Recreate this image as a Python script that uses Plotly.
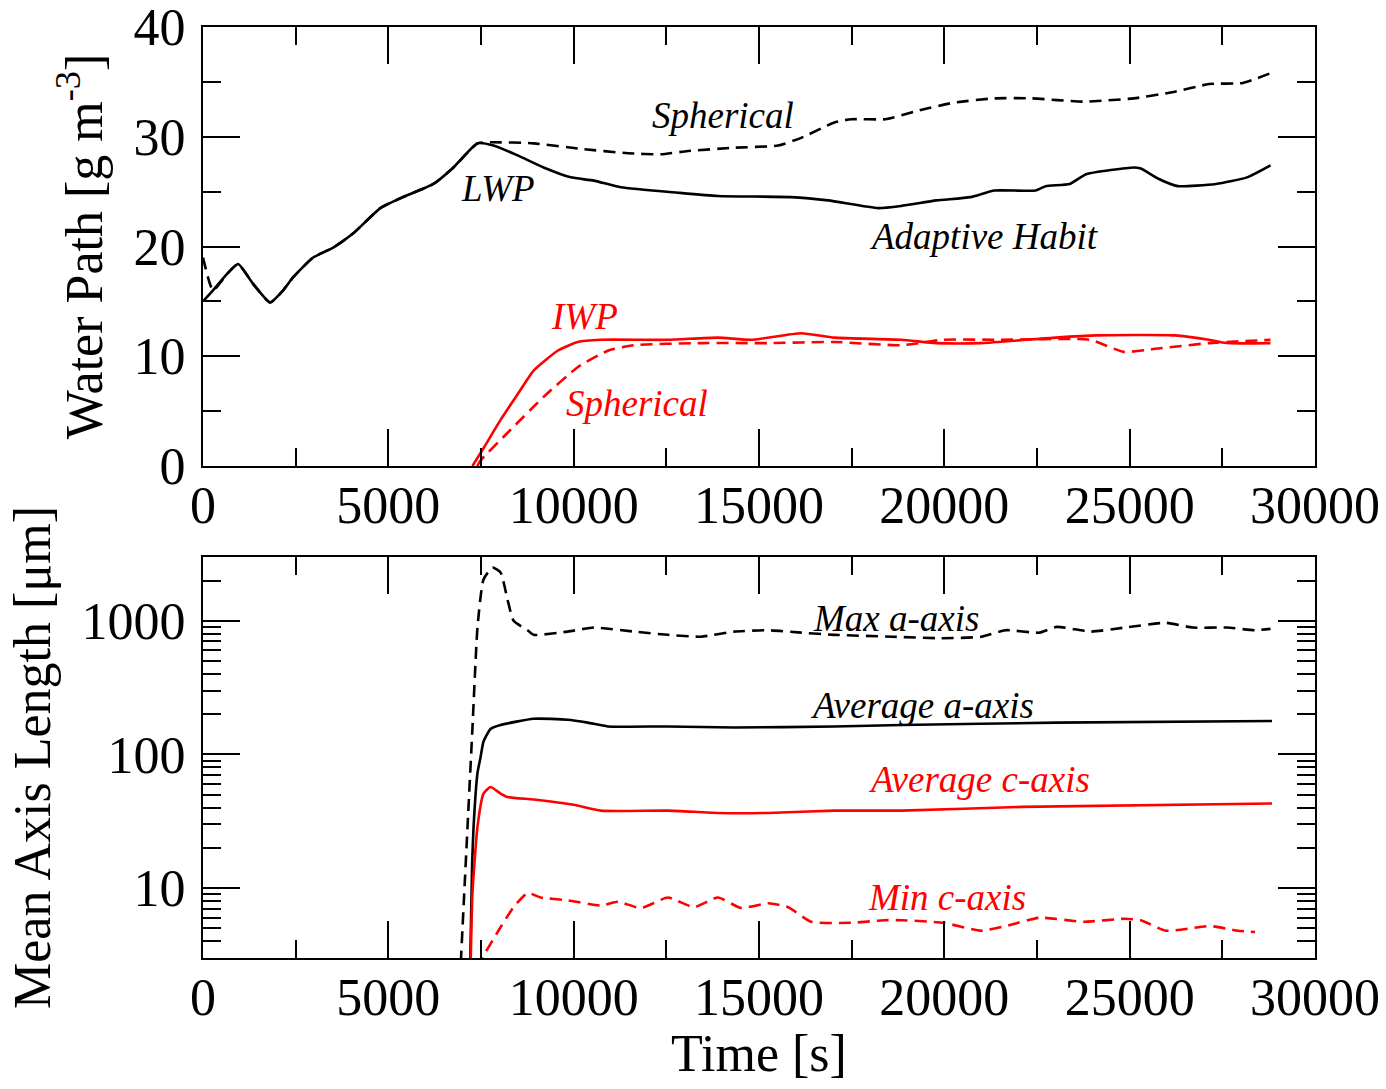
import plotly.graph_objects as go
import math

# ---------------- data (top panel: water path) ----------------
lwp_ah_t = [0, 270, 649, 946, 1351, 1811, 2162, 2433, 2973, 3514, 4055, 4784, 5325, 6217, 6757,
            7406, 7839, 8487, 9190, 9920, 10542, 11272, 12812, 13893, 15867, 16867, 18218, 18840,
            19786, 20705, 21354, 22462, 22733, 23381, 23840, 25111, 25300, 25760, 26300, 27327,
            28165, 28800]
lwp_ah_v = [15.0, 16.0, 17.5, 18.4, 16.6, 14.9, 16.0, 17.2, 19.0, 19.9, 21.2, 23.5, 24.4, 25.7, 27.2,
            29.4, 29.2, 28.3, 27.2, 26.3, 26.0, 25.4, 24.9, 24.6, 24.5, 24.2, 23.5, 23.7,
            24.2, 24.5, 25.1, 25.1, 25.5, 25.7, 26.6, 27.2, 27.1, 26.2, 25.5, 25.7,
            26.3, 27.4]

lwp_sp_t = [0, 270, 649, 946, 1351, 1811, 2162, 2433, 2973, 3514, 4055, 4784, 5325, 6217, 6757,
            7406, 7757, 8920, 10190, 11460, 12353, 13083, 14326, 15516, 16138, 17030, 17489, 18408,
            19327, 20246, 21354, 22354, 23733, 25111, 26219, 27138, 28057, 28800]
lwp_sp_v = [19.0, 16.0, 17.5, 18.4, 16.6, 14.9, 16.0, 17.2, 19.0, 19.9, 21.2, 23.5, 24.4, 25.7, 27.2,
            29.4, 29.5, 29.4, 28.9, 28.5, 28.4, 28.7, 29.0, 29.2, 29.9, 31.3, 31.6, 31.6,
            32.4, 33.1, 33.5, 33.5, 33.2, 33.5, 34.1, 34.8, 34.9, 35.8]

iwp_ah_t = [7270, 7600, 8028, 8500, 8920, 9568, 10109, 10731, 12542, 13893, 14785, 16138, 17030,
            18840, 19786, 21000, 23002, 24110, 26219, 27138, 27600, 28800]
iwp_ah_v = [0.0, 1.8, 4.2, 6.6, 8.7, 10.5, 11.3, 11.5, 11.5, 11.7, 11.5, 12.1, 11.7,
            11.5, 11.2, 11.2, 11.7, 11.9, 11.9, 11.5, 11.2, 11.2]

iwp_sp_t = [7400, 7487, 8298, 9190, 10109, 10920, 11623, 13434, 15245, 17030, 18840, 19952, 21500,
            23921, 24840, 25760, 27138, 28800]
iwp_sp_v = [0.0, 0.5, 3.3, 6.3, 9.0, 10.5, 11.0, 11.2, 11.2, 11.3, 11.0, 11.5, 11.5,
            11.5, 10.4, 10.7, 11.2, 11.5]

# ---------------- data (bottom panel: axis lengths) ----------------
max_a_t = [6930, 7136, 7270, 7406, 7568, 7811, 8028, 8217, 8379, 8757, 8920, 9839, 10542, 11623,
           12542, 13434, 14326, 15245, 16138, 17030, 18597, 19894, 21003, 21651, 22570, 23030,
           23948, 24867, 25976, 26706, 27625, 28382, 28800]
max_a_v = [2.0, 28.6, 159, 900, 2040, 2500, 2300, 1435, 1000, 850, 785, 830, 890, 830,
           785, 760, 830, 850, 815, 785, 760, 740, 760, 850, 815, 900,
           830, 890, 965, 890, 890, 850, 870]

avg_a_t = [7200, 7260, 7300, 7406, 7487, 7568, 7757, 8028, 8920, 9839, 10380, 10920, 12542, 14326,
           17030, 18840, 23030, 28840]
avg_a_v = [2.0, 15, 29, 73, 95, 125, 155, 166, 185, 182, 173, 162, 162, 159,
           162, 166, 173, 178]

avg_c_t = [7210, 7270, 7406, 7568, 7757, 8028, 8217, 8920, 10000, 10731, 12542, 13893, 15245,
           17030, 18840, 22083, 28840]
avg_c_v = [2.0, 9.2, 29, 51, 57, 51, 48, 46, 42, 38, 38, 36.5, 36.5,
           38, 38, 40.5, 43]

min_c_t = [7450, 7540, 8028, 8379, 8757, 9109, 9839, 10731, 11190, 11812, 12542, 13244, 13893,
           14515, 15245, 15786, 16408, 17489, 18380, 18867, 19975, 21003, 21651, 22570, 23759,
           24867, 25300, 25976, 27165, 27922, 28382]
min_c_v = [2.5, 3.0, 5.1, 7.2, 9.2, 8.5, 8.1, 7.4, 7.9, 7.1, 8.5, 7.2, 8.5,
           7.1, 7.7, 7.2, 5.6, 5.5, 5.75, 5.75, 5.5, 4.8, 5.2, 6.0, 5.6,
           5.9, 5.75, 4.8, 5.2, 4.8, 4.7]

# tick definitions
x_ticks = [0, 5000, 10000, 15000, 20000, 25000, 30000]
top_y_ticks = [0, 10, 20, 30, 40]
log_major = [10, 100, 1000]
log_major_text = ["10", "100", "1000"]
log_minor = [m * d for d in (1, 10, 100, 1000) for m in range(2, 10) if 3 <= m * d <= 3000]

BLACK = "#000000"
RED = "#ff0000"
FONT = "Liberation Serif"
TICK_SIZE = 52
TITLE_SIZE = 52
NOTE_SIZE = 37

fig = go.Figure()

def add(t, v, color, dash, xa, ya):
    fig.add_trace(go.Scatter(x=t, y=v, mode="lines", xaxis=xa, yaxis=ya,
                             line=dict(color=color, width=2.6, dash=dash,
                                       shape="spline", smoothing=0.5),
                             showlegend=False, hoverinfo="skip"))

DASH = "12px,7px"
add(lwp_sp_t, lwp_sp_v, BLACK, DASH, "x", "y")
add(lwp_ah_t, lwp_ah_v, BLACK, "solid", "x", "y")
add(iwp_sp_t, iwp_sp_v, RED, DASH, "x", "y")
add(iwp_ah_t, iwp_ah_v, RED, "solid", "x", "y")

add(max_a_t, max_a_v, BLACK, DASH, "x2", "y2")
add(avg_a_t, avg_a_v, BLACK, "solid", "x2", "y2")
add(avg_c_t, avg_c_v, RED, "solid", "x2", "y2")
add(min_c_t, min_c_v, RED, DASH, "x2", "y2")

axis_common = dict(showline=True, linecolor=BLACK, linewidth=2.2, mirror="ticks",
                   ticks="inside", ticklen=37, tickwidth=2, tickcolor=BLACK,
                   showgrid=False, zeroline=False, automargin=False,
                   ticklabeloverflow="allow",
                   tickfont=dict(family=FONT, size=TICK_SIZE, color=BLACK))

minor_common = dict(ticks="inside", ticklen=18, tickwidth=2, tickcolor=BLACK, showgrid=False)

xaxis_base = dict(**axis_common, range=[0, 30000], tickmode="array", tickvals=x_ticks,
                  ticktext=[str(v) for v in x_ticks], ticklabelstandoff=-8,
                  minor=dict(**minor_common, dtick=2500, tick0=0))

top_dom = [(931 - 439) / 931, 1.0]
bot_dom = [0.0, 401 / 931]

fig.update_layout(
    xaxis=dict(**xaxis_base, anchor="y", domain=[0, 1]),
    yaxis=dict(**axis_common, anchor="x", domain=top_dom, range=[0, 40], tickmode="array",
               tickvals=top_y_ticks, ticktext=[str(v) for v in top_y_ticks],
               ticklabelstandoff=5,
               minor=dict(**minor_common, dtick=5, tick0=0),
               title=dict(text="Water Path [g m<sup>-3</sup>]",
                          font=dict(family=FONT, size=TITLE_SIZE, color=BLACK), standoff=14)),
    xaxis2=dict(**xaxis_base, anchor="y2", domain=[0, 1],
                title=dict(text="Time [s]", font=dict(family=FONT, size=TITLE_SIZE, color=BLACK),
                           standoff=9)),
    yaxis2=dict(**axis_common, anchor="x2", domain=bot_dom, type="log",
                range=[math.log10(3), math.log10(3000)],
                tickmode="array", tickvals=log_major, ticktext=log_major_text,
                ticklabelstandoff=5,
                minor=dict(**minor_common, tickmode="array", tickvals=log_minor),
                title=dict(text="Mean Axis Length [μm]",
                           font=dict(family=FONT, size=TITLE_SIZE, color=BLACK), standoff=14)),
)

def note(text, x, y, color, xref, yref):
    fig.add_annotation(text=text, x=x, y=y, xref=xref, yref=yref,
                       showarrow=False, xanchor="center", yanchor="middle",
                       font=dict(family=FONT, size=NOTE_SIZE, color=color, style="italic"))

note("Spherical", 14029, 31.9, BLACK, "x", "y")
note("LWP", 7947, 25.3, BLACK, "x", "y")
note("Adaptive Habit", 21083, 20.9, BLACK, "x", "y")
note("IWP", 10298, 13.6, RED, "x", "y")
note("Spherical", 11704, 5.7, RED, "x", "y")

note("Max a-axis", 18705, math.log10(1035), BLACK, "x2", "y2")
note("Average a-axis", 19408, math.log10(231), BLACK, "x2", "y2")
note("Average c-axis", 20922, math.log10(65.5), RED, "x2", "y2")
note("Min c-axis", 20084, math.log10(8.57), RED, "x2", "y2")

fig.update_layout(width=1386, height=1089, margin=dict(l=203, r=71, t=27, b=131),
                  paper_bgcolor="white", plot_bgcolor="white",
                  font=dict(family=FONT, color=BLACK))

fig.write_html("out.html")
